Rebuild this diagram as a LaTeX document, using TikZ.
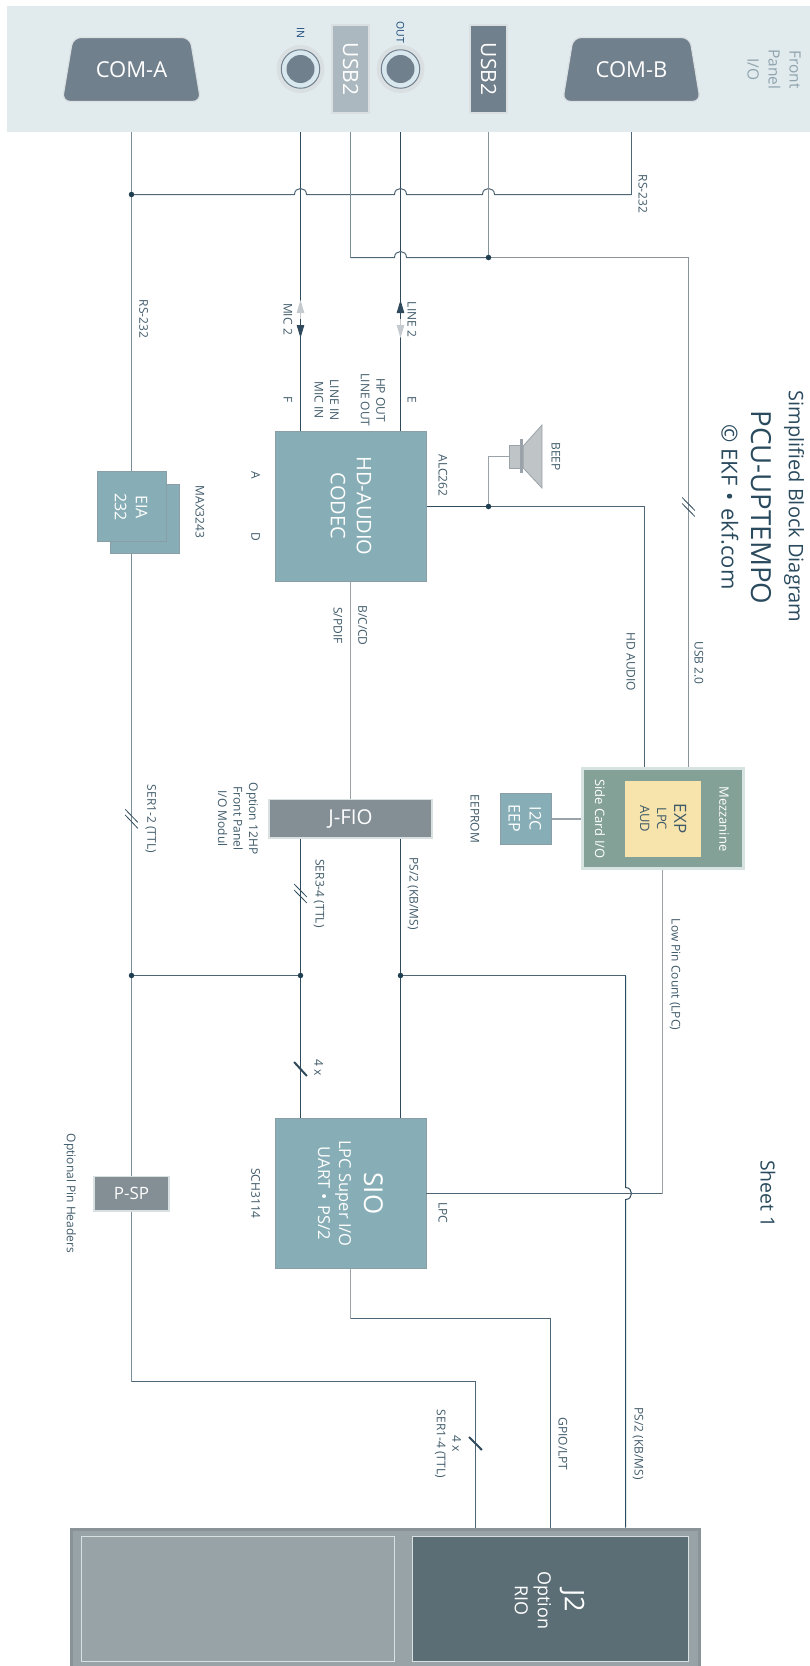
\documentclass[tikz,border=0pt]{standalone}
\usepackage{fontspec}
\setmainfont{Open Sans}
\usetikzlibrary{calc,shapes.geometric,arrows.meta}
\definecolor{panelbg}{HTML}{E1EBEE}
\definecolor{slatefill}{HTML}{71808D}
\definecolor{usbpale}{HTML}{ABB8BF}
\definecolor{halo}{HTML}{DADFE2}
\definecolor{tealbox}{HTML}{87AEB6}
\definecolor{tealedge}{HTML}{8A9EA5}
\definecolor{grayfill}{HTML}{838E95}
\definecolor{graylight}{HTML}{D8E0E2}
\definecolor{mezz}{HTML}{83A197}
\definecolor{mezzedge}{HTML}{D6E3E1}
\definecolor{yellowbox}{HTML}{F7E3AC}
\definecolor{rackfill}{HTML}{98A3A8}
\definecolor{rackedge}{HTML}{8A9498}
\definecolor{jtwo}{HTML}{5B6E76}
\definecolor{wdark}{HTML}{2E4A5C}
\definecolor{wmid}{HTML}{4F6676}
\definecolor{wpale}{HTML}{7A8D9A}
\definecolor{wgray}{HTML}{9AA3A9}
\definecolor{wsteel}{HTML}{89949B}
\definecolor{labeltext}{HTML}{3F5A69}
\definecolor{titletext}{HTML}{2A4A5E}
\definecolor{frontpanel}{HTML}{8FA3AD}
\definecolor{jacktext}{HTML}{1A4A7A}
\definecolor{jackring}{HTML}{D8E8EE}
\definecolor{dotcol}{HTML}{1F3E50}
\definecolor{arrowpale}{HTML}{C4CACD}
\definecolor{speaker}{HTML}{BFC4C6}
\newcommand{\fs}[2]{\fontsize{#1pt}{#2pt}\selectfont}
\newcommand{\hopE}[1]{-- ($(#1)+(-6,0)$) .. controls ($(#1)+(-6,-8)$) and ($(#1)+(6,-8)$) .. ($(#1)+(6,0)$)}
\newcommand{\hopW}[1]{-- ($(#1)+(6,0)$) .. controls ($(#1)+(6,-8)$) and ($(#1)+(-6,-8)$) .. ($(#1)+(-6,0)$)}
\newcommand{\hopS}[1]{-- ($(#1)+(0,-6)$) .. controls ($(#1)+(8,-6)$) and ($(#1)+(8,6)$) .. ($(#1)+(0,6)$)}
\tikzset{
 x=1pt,y=-1pt,
 lbl/.style={rotate=-90,inner sep=0pt,align=center,text=labeltext,font=\fs{12}{15.5}},
 boxbase/.style={rectangle,inner sep=0pt,rotate=0},
 tealnode/.style={boxbase,fill=tealbox,draw=tealedge,line width=1pt},
 graynode/.style={boxbase,fill=grayfill,draw=graylight,line width=1.5pt},
 onbox/.style={rotate=-90,inner sep=0pt,align=center,text=white},
 comnode/.style={trapezium,trapezium left angle=68,trapezium right angle=68,trapezium stretches=true,
   rounded corners=8pt,fill=slatefill,draw=halo,line width=1.2pt,inner sep=0pt,minimum width=139pt,minimum height=64pt,
   text=white,font=\fs{22}{24}},
 jack/.style={circle,inner sep=0pt,minimum size=28pt,fill=slatefill,draw=none},
 usbnode/.style={boxbase,draw=halo,line width=2pt,minimum width=37pt,minimum height=88pt},
 wire/.style={line width=1pt,color=#1},
 dot/.style={circle,fill=dotcol,inner sep=0pt,minimum size=5.5pt},
 slash/.style={line width=.8pt,color=wdark},
 thick slash/.style={line width=2pt,color=wdark},
 tipdark/.style={-{Triangle[length=13pt,width=7.5pt]},wdark,line width=1pt},
 tippale/.style={-{Triangle[length=13pt,width=7.5pt]},arrowpale,line width=1pt},
}
\begin{document}
\begin{tikzpicture}
\useasboundingbox (0,0) rectangle (810,1666);
% front panel
\node[boxbase,fill=panelbg,minimum width=803pt,minimum height=126pt] (panel) at (408.5,69) {};
\node[comnode] (coma) at (131.5,69.5) {COM-A};
\node[comnode] (comb) at (631.5,69.5) {COM-B};
% jacks
\node[circle,inner sep=0pt,minimum size=48pt,fill=halo] (haloin) at (300.5,69) {};
\node[circle,inner sep=0pt,minimum size=38.5pt,fill=jackring,draw=slatefill,line width=1pt] (ringin) at (300.5,69) {};
\node[jack] (jackin) at (300.5,69) {};
\node[circle,inner sep=0pt,minimum size=48pt,fill=halo] (haloout) at (400.5,69) {};
\node[circle,inner sep=0pt,minimum size=38.5pt,fill=jackring,draw=slatefill,line width=1pt] (ringout) at (400.5,69) {};
\node[jack] (jackout) at (400.5,69) {};
\node[onbox,text=jacktext,font=\fs{10.5}{11}] (inl) at (300.5,32.5) {IN};
\node[onbox,text=jacktext,font=\fs{10.5}{11}] (outl) at (400.5,32) {OUT};
\node[usbnode,fill=usbpale] (usba) at (350.5,69) {};
\node[onbox,font=\fs{21}{24}] (usbat) at (350.5,69) {USB2};
\node[usbnode,fill=slatefill] (usbb) at (488.5,69) {};
\node[onbox,font=\fs{21}{24}] (usbbt) at (488.5,69) {USB2};
\node[lbl,text=frontpanel,font=\fs{15.5}{21}] (fpl) at (774,69.5) {Front\\Panel\\I/O};
% main blocks
\node[tealnode,minimum width=151pt,minimum height=150.5pt] (codec) at (350.5,506.3) {};
\node[onbox,font=\fs{20}{26}] (codect) at (351,506) {HD-AUDIO\\CODEC};
\node[tealnode,minimum width=151pt,minimum height=150.5pt] (sio) at (350.5,1193.3) {};
\node[onbox,font=\fs{16.5}{21}] (siot) at (350.5,1193.5) {{\fs{26}{30}SIO}\\[4pt]LPC Super I/O\\UART\,\,•\,\,PS/2};
\node[tealnode,fill=tealbox,minimum width=69pt,minimum height=69.5pt] (eiab) at (144.5,519) {};
\node[tealnode,minimum width=69pt,minimum height=69.5pt] (eia) at (131.5,506.5) {};
\node[onbox,font=\fs{16}{21}] (eiat) at (131,507) {EIA\\232};
\node[graynode,minimum width=163pt,minimum height=38.5pt] (jfio) at (350.5,818.5) {};
\node[inner sep=0pt,text=white,font=\fs{20.5}{22}] (jfiot) at (350.5,818.5) {J-FIO};
\node[graynode,minimum width=75pt,minimum height=34.5pt] (psp) at (131.5,1193.5) {};
\node[inner sep=0pt,text=white,font=\fs{17}{18}] (pspt) at (131.5,1193.5) {P-SP};
\node[boxbase,fill=mezz,draw=mezzedge,line width=3pt,minimum width=161pt,minimum height=100pt] (mezz) at (662.5,818.5) {};
\node[boxbase,fill=yellowbox,minimum width=76pt,minimum height=76pt] (exp) at (663,819) {};
\node[onbox,text=labeltext,font=\fs{13}{17}] (expt) at (663,818.7) {{\fs{17}{18}EXP}\\LPC\\AUD};
\node[onbox,text=white,font=\fs{13}{15}] (mezzt) at (724,819) {Mezzanine};
\node[onbox,text=white,font=\fs{13}{15}] (sidet) at (600,819) {Side Card I/O};
\node[tealnode,minimum width=51pt,minimum height=51pt] (eep) at (525.8,818.5) {};
\node[onbox,font=\fs{16}{21}] (eept) at (525,818.5) {I2C\\EEP};
% J2 carrier
\node[boxbase,fill=rackfill,draw=rackedge,line width=3pt,minimum width=628pt,minimum height=140pt] (rack) at (385,1599) {};
\node[boxbase,fill=rackfill,draw=graylight,line width=1pt,minimum width=313pt,minimum height=125pt] (blank) at (238.3,1599.3) {};
\node[boxbase,fill=jtwo,draw=graylight,line width=1pt,minimum width=276pt,minimum height=125pt] (jtwo) at (550.6,1599.3) {};
\node[onbox,font=\fs{18}{23}] (jtwot) at (549.5,1600.5) {{\fs{27}{27}J2}\\[4pt]Option\\RIO};
% speaker
\node[boxbase,fill=speaker,draw=wgray,line width=1pt,minimum width=11pt,minimum height=23pt] (spkbox) at (514.5,456.5) {};
\node[boxbase,fill=wgray,minimum width=3pt,minimum height=34pt] (spkbar) at (521.5,456) {};
\draw[fill=speaker,draw=wgray,line width=.8pt] (spkbar.east |- 0,446) -- (542,425) -- (542,488) -- (spkbar.east |- 0,468) -- cycle;
% junction coordinates
\coordinate (rsbus) at (131.5,194.5);
\coordinate (rsend) at (631.5,194.5);
\coordinate (usbbus) at (350.5,257.5);
\coordinate (usbturn) at (688.5,257.5);
\coordinate (usbdot) at (488.5,257.5);
\coordinate (hop1) at (300.5,194.5);
\coordinate (hop2) at (400.5,194.5);
\coordinate (hop3) at (488.5,194.5);
\coordinate (hop4) at (400.5,257.5);
\coordinate (audiodot) at (488.5,506.5);
\coordinate (audioturn) at (644.5,506.5);
\coordinate (lowbus) at (131.5,975.5);
\coordinate (lowmid) at (300.5,975.5);
\coordinate (lowps) at (400.5,975.5);
\coordinate (psturn) at (625.5,975.5);
\coordinate (lpcstart) at (426,1193.5);
\coordinate (lpcturn) at (662.5,1193.5);
\coordinate (lpchop) at (625.5,1193.5);
\coordinate (serturn) at (131.5,1381.5);
\coordinate (serturnb) at (475.5,1381.5);
\coordinate (gpioa) at (350.5,1318.5);
\coordinate (gpiob) at (550.5,1318.5);
% connectors
\draw[wire=wpale] (panel.south -| coma) -- (rsbus) -- (eia.north);
\draw[wire=wpale] (eiab.south -| eia) -- (lowbus) -- (psp.north);
\draw[wire=wpale] (psp.south) -- (serturn);
\draw[wire=wmid] (serturn) -- (serturnb);
\draw[wire=wmid] (serturnb) -- (serturnb |- rack.north);
\draw[wire=wdark] (panel.south -| jackin) -- (codec.north -| jackin);
\draw[wire=wdark] (panel.south -| jackout) -- (codec.north -| jackout);
\draw[wire=wmid] (rsend) -- (panel.south -| comb);
\draw[wire=wmid] (rsend) \hopW{hop3} \hopW{hop2} \hopW{hop1} -- (rsbus);
\draw[wire=wpale] (panel.south -| usba) -- (usbbus);
\draw[wire=wmid] (usbbus) \hopE{hop4} -- (usbdot);
\draw[wire=wsteel,line width=1.2pt] (panel.south -| usbb) -- (usbdot);
\draw[wire=wsteel,line width=1.2pt] (usbdot) -- (usbturn) -- (usbturn |- mezz.north);
\draw[wire=wdark] (codec.east |- audiodot) -- (audiodot);
\draw[wire=wmid] (audiodot) -- (audioturn) -- (audioturn |- mezz.north);
\draw[wire=wgray] (audiodot) -- (audiodot |- spkbox) -- (spkbox.west);
\draw[wire=wgray,line width=.8pt] (codec.south) -- (jfio.north);
\draw[wire=wdark] (jfio.south -| jackin) -- (sio.north -| jackin);
\draw[wire=wdark] (jfio.south -| jackout) -- (sio.north -| jackout);
\draw[wire=wmid] (lowbus) -- (lowmid);
\draw[wire=wmid] (lowps) -- (psturn);
\draw[wire=wdark] (psturn) \hopS{lpchop} -- (psturn |- rack.north);
\draw[wire=wmid] (lpcstart) -- (lpcturn);
\draw[wire=wgray] (lpcturn) -- (lpcturn |- mezz.south);
\draw[wire=wgray,line width=2pt] (eep.east) -- (mezz.west);
\draw[wire=wgray,line width=.8pt] (sio.south) -- (gpioa);
\draw[wire=wmid] (gpioa) -- (gpiob) -- (gpiob |- rack.north);
% dots
\node[dot] (d1) at (rsbus) {};
\node[dot] (d2) at (usbdot) {};
\node[dot] (d3) at (audiodot) {};
\node[dot] (d4) at (lowbus) {};
\node[dot] (d5) at (lowmid) {};
\node[dot] (d6) at (lowps) {};
% arrows
\coordinate (micbase) at (300.5,319);
\coordinate (micup) at (300.5,300);
\coordinate (micdown) at (300.5,338);
\coordinate (linebase) at (400.5,319);
\coordinate (lineup) at (400.5,300);
\coordinate (linedown) at (400.5,338);
\draw[tippale] (micbase) -- (micup);
\draw[tipdark] (micbase) -- (micdown);
\draw[tipdark] (linebase) -- (lineup);
\draw[tippale] (linebase) -- (linedown);
% bus slashes
\draw[slash] (125.2,809.3) -- (137.8,822.3) (125.2,815) -- (137.8,828.3);
\draw[slash] (294.1,884) -- (306.9,897) (294.1,890) -- (306.9,903);
\draw[slash] (682.1,497.5) -- (694.9,510.5) (682.1,503.5) -- (694.9,516.5);
\draw[thick slash] (294.1,1062) -- (306.9,1076);
\draw[thick slash] (469.1,1437) -- (481.9,1450);
% labels
\node[lbl] (l01) at (643,194) {RS-232};
\node[lbl] (l02) at (143.6,319) {RS-232};
\node[lbl] (l03) at (288,319) {MIC 2};
\node[lbl] (l04) at (412,319.5) {LINE 2};
\node[lbl] (l05) at (373,400) {HP OUT\\LINE OUT};
\node[lbl] (l06) at (326.5,400) {LINE IN\\MIC IN};
\node[lbl] (l07) at (288,400) {F};
\node[lbl] (l08) at (412,400) {E};
\node[lbl] (l09) at (255.7,475) {A};
\node[lbl] (l10) at (255.7,537) {D};
\node[lbl] (l11) at (443,475.5) {ALC262};
\node[lbl] (l12) at (556,456.7) {BEEP};
\node[lbl] (l13) at (200,512) {MAX3243};
\node[lbl] (l14) at (362.6,625.5) {B/C/CD};
\node[lbl] (l15) at (338,625.5) {S/PDIF};
\node[lbl] (l16) at (631,662) {HD AUDIO};
\node[lbl] (l17) at (699,663) {USB 2.0};
\node[lbl] (l18) at (150.8,819) {SER1-2 (TTL)};
\node[lbl] (l19) at (238,818.5) {Option 12HP\\Front Panel\\I/O Modul};
\node[lbl] (l20) at (475,819) {EEPROM};
\node[lbl] (l21) at (319,893.5) {SER3-4 (TTL)};
\node[lbl] (l22) at (413,893.5) {PS/2 (KB/MS)};
\node[lbl] (l23) at (675,974.5) {Low Pin Count (LPC)};
\node[lbl] (l24) at (318.7,1068) {4 x};
\node[lbl] (l25) at (255.7,1193.5) {SCH3114};
\node[lbl] (l26) at (443,1212.5) {LPC};
\node[lbl] (l27) at (70,1193.5) {Optional Pin Headers};
\node[lbl] (l28) at (448,1444) {4 x\\SER1-4 (TTL)};
\node[lbl] (l29) at (563,1444) {GPIO/LPT};
\node[lbl] (l30) at (638,1443.5) {PS/2 (KB/MS)};
% titles
\node[lbl,text=titletext,font=\fs{20}{22}] (t1) at (794,506.5) {Simplified Block Diagram};
\node[lbl,text=titletext,font=\fs{27.7}{30}] (t2) at (761,507.5) {PCU-UPTEMPO};
\node[lbl,text=titletext,font=\fs{22}{24}] (t3) at (730,507) {© EKF\,\,•\,\,ekf.com};
\node[lbl,text=titletext,font=\fs{19.5}{22}] (t4) at (768,1194) {Sheet 1};
\end{tikzpicture}
\end{document}
